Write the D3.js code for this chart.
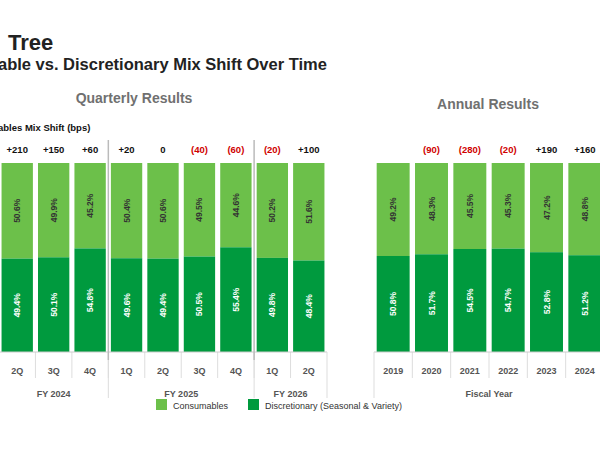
<!DOCTYPE html><html><head><meta charset="utf-8"><script src="https://cdn.jsdelivr.net/npm/d3@7"></script>
<style>body{margin:0;background:#fff}text{font-family:Arial,"Liberation Sans",sans-serif}</style></head><body><svg width="600" height="450"></svg>
<script>
const qCats=["2Q","3Q","4Q","1Q","2Q","3Q","4Q","1Q","2Q"];
const qGroups=["FY 2024","FY 2024","FY 2024","FY 2025","FY 2025","FY 2025","FY 2025","FY 2026","FY 2026"];
const qCons=[50.6,49.9,45.2,50.4,50.6,49.5,44.6,50.2,51.6];
const qDisc=[49.4,50.1,54.8,49.6,49.4,50.5,55.4,49.8,48.4];
const qShift=["+210","+150","+60","+20","0","(40)","(60)","(20)","+100"];
const aCats=["2019","2020","2021","2022","2023","2024"];
const aCons=[49.2,48.3,45.5,45.3,47.2,48.8];
const aDisc=[50.8,51.7,54.5,54.7,52.8,51.2];
const aShift=["","(90)","(280)","(20)","+190","+160"];
const C1="#6cc04a",C2="#009a3e";
const svg=d3.select("svg");
const y=d3.scaleLinear().domain([0,100]).range([352,163]);
svg.append("text").attr("x",8).attr("y",50).attr("font-size",22).attr("font-weight","bold").attr("fill","#222").text("Tree");
svg.append("text").attr("x",-2).attr("y",70).attr("font-size",16.5).attr("font-weight","bold").attr("fill","#222").text("able vs. Discretionary Mix Shift Over Time");
svg.append("text").attr("x",134).attr("y",103).attr("text-anchor","middle").attr("font-size",14).attr("font-weight","bold").attr("fill","#707070").text("Quarterly Results");
svg.append("text").attr("x",488).attr("y",109).attr("text-anchor","middle").attr("font-size",14).attr("font-weight","bold").attr("fill","#707070").text("Annual Results");
svg.append("text").attr("x",-2).attr("y",131).attr("font-size",9.5).attr("font-weight","bold").attr("fill","#111").text("ables Mix Shift (bps)");
function panel(cats,groups,cons,disc,shift,x0,x1){
  const x=d3.scaleBand().domain(d3.range(cats.length)).range([x0,x1]).paddingInner(0.14).paddingOuter(0.07);
  const g=svg.append("g");
  cats.forEach((c,i)=>{
    const bx=x(i),w=x.bandwidth();
    g.append("rect").attr("x",bx).attr("y",y(100)).attr("width",w).attr("height",y(disc[i])-y(100)).attr("fill",C1);
    g.append("rect").attr("x",bx).attr("y",y(disc[i])).attr("width",w).attr("height",y(0)-y(disc[i])).attr("fill",C2);
    g.append("text").attr("transform",`translate(${bx+w/2+3},${(y(100)+y(disc[i]))/2}) rotate(-90)`).attr("text-anchor","middle").attr("font-size",8.5).attr("font-weight","bold").attr("fill","#333").text(cons[i].toFixed(1)+"%");
    g.append("text").attr("transform",`translate(${bx+w/2+3},${(y(0)+y(disc[i]))/2}) rotate(-90)`).attr("text-anchor","middle").attr("font-size",8.5).attr("font-weight","bold").attr("fill","#fff").text(disc[i].toFixed(1)+"%");
    g.append("text").attr("x",bx+w/2).attr("y",153).attr("text-anchor","middle").attr("font-size",9.5).attr("font-weight","bold").attr("fill",shift[i].startsWith("(")?"#d00000":"#111").text(shift[i]);
    g.append("text").attr("x",bx+w/2).attr("y",374).attr("text-anchor","middle").attr("font-size",9).attr("font-weight","bold").attr("fill","#555").text(c);
    const step=x.step();
    if(i>0) g.append("line").attr("x1",bx-(step-w)/2).attr("x2",bx-(step-w)/2).attr("y1",352).attr("y2",378).attr("stroke","#ddd");
  });
  g.append("line").attr("x1",x0).attr("x2",x1).attr("y1",352).attr("y2",352).attr("stroke","#ccc");
  return x;
}
const xq=panel(qCats,qGroups,qCons,qDisc,qShift,-1,327);
const xa=panel(aCats,aCats,aCons,aDisc,aShift,374,604);
const grp=d3.groups(qGroups.map((g,i)=>({g,i})),d=>d.g);
grp.forEach(([name,arr],k)=>{
  const a=xq(arr[0].i),b=xq(arr[arr.length-1].i)+xq.bandwidth();
  svg.append("text").attr("x",(a+b)/2).attr("y",397).attr("text-anchor","middle").attr("font-size",9).attr("font-weight","bold").attr("fill","#555").text(name);
  if(k>0){const sx=a-(xq.step()-xq.bandwidth())/2;
    svg.append("line").attr("x1",sx).attr("x2",sx).attr("y1",140).attr("y2",360).attr("stroke","#bbb").attr("stroke-width",1.5);
    svg.append("line").attr("x1",sx).attr("x2",sx).attr("y1",360).attr("y2",398).attr("stroke","#ddd");}
});
svg.append("text").attr("x",(xa(0)+xa(5)+xa.bandwidth())/2).attr("y",397).attr("text-anchor","middle").attr("font-size",9).attr("font-weight","bold").attr("fill","#555").text("Fiscal Year");
svg.append("line").attr("x1",374).attr("x2",374).attr("y1",352).attr("y2",398).attr("stroke","#ddd");
svg.append("line").attr("x1",327).attr("x2",327).attr("y1",352).attr("y2",398).attr("stroke","#ddd");
[["Consumables",C1,156],["Discretionary (Seasonal & Variety)",C2,248]].forEach(([t,c,lx])=>{
  svg.append("rect").attr("x",lx).attr("y",399).attr("width",11).attr("height",11).attr("fill",c);
  svg.append("text").attr("x",lx+17).attr("y",408.5).attr("font-size",9).attr("fill","#333").text(t);
});
</script></body></html>
